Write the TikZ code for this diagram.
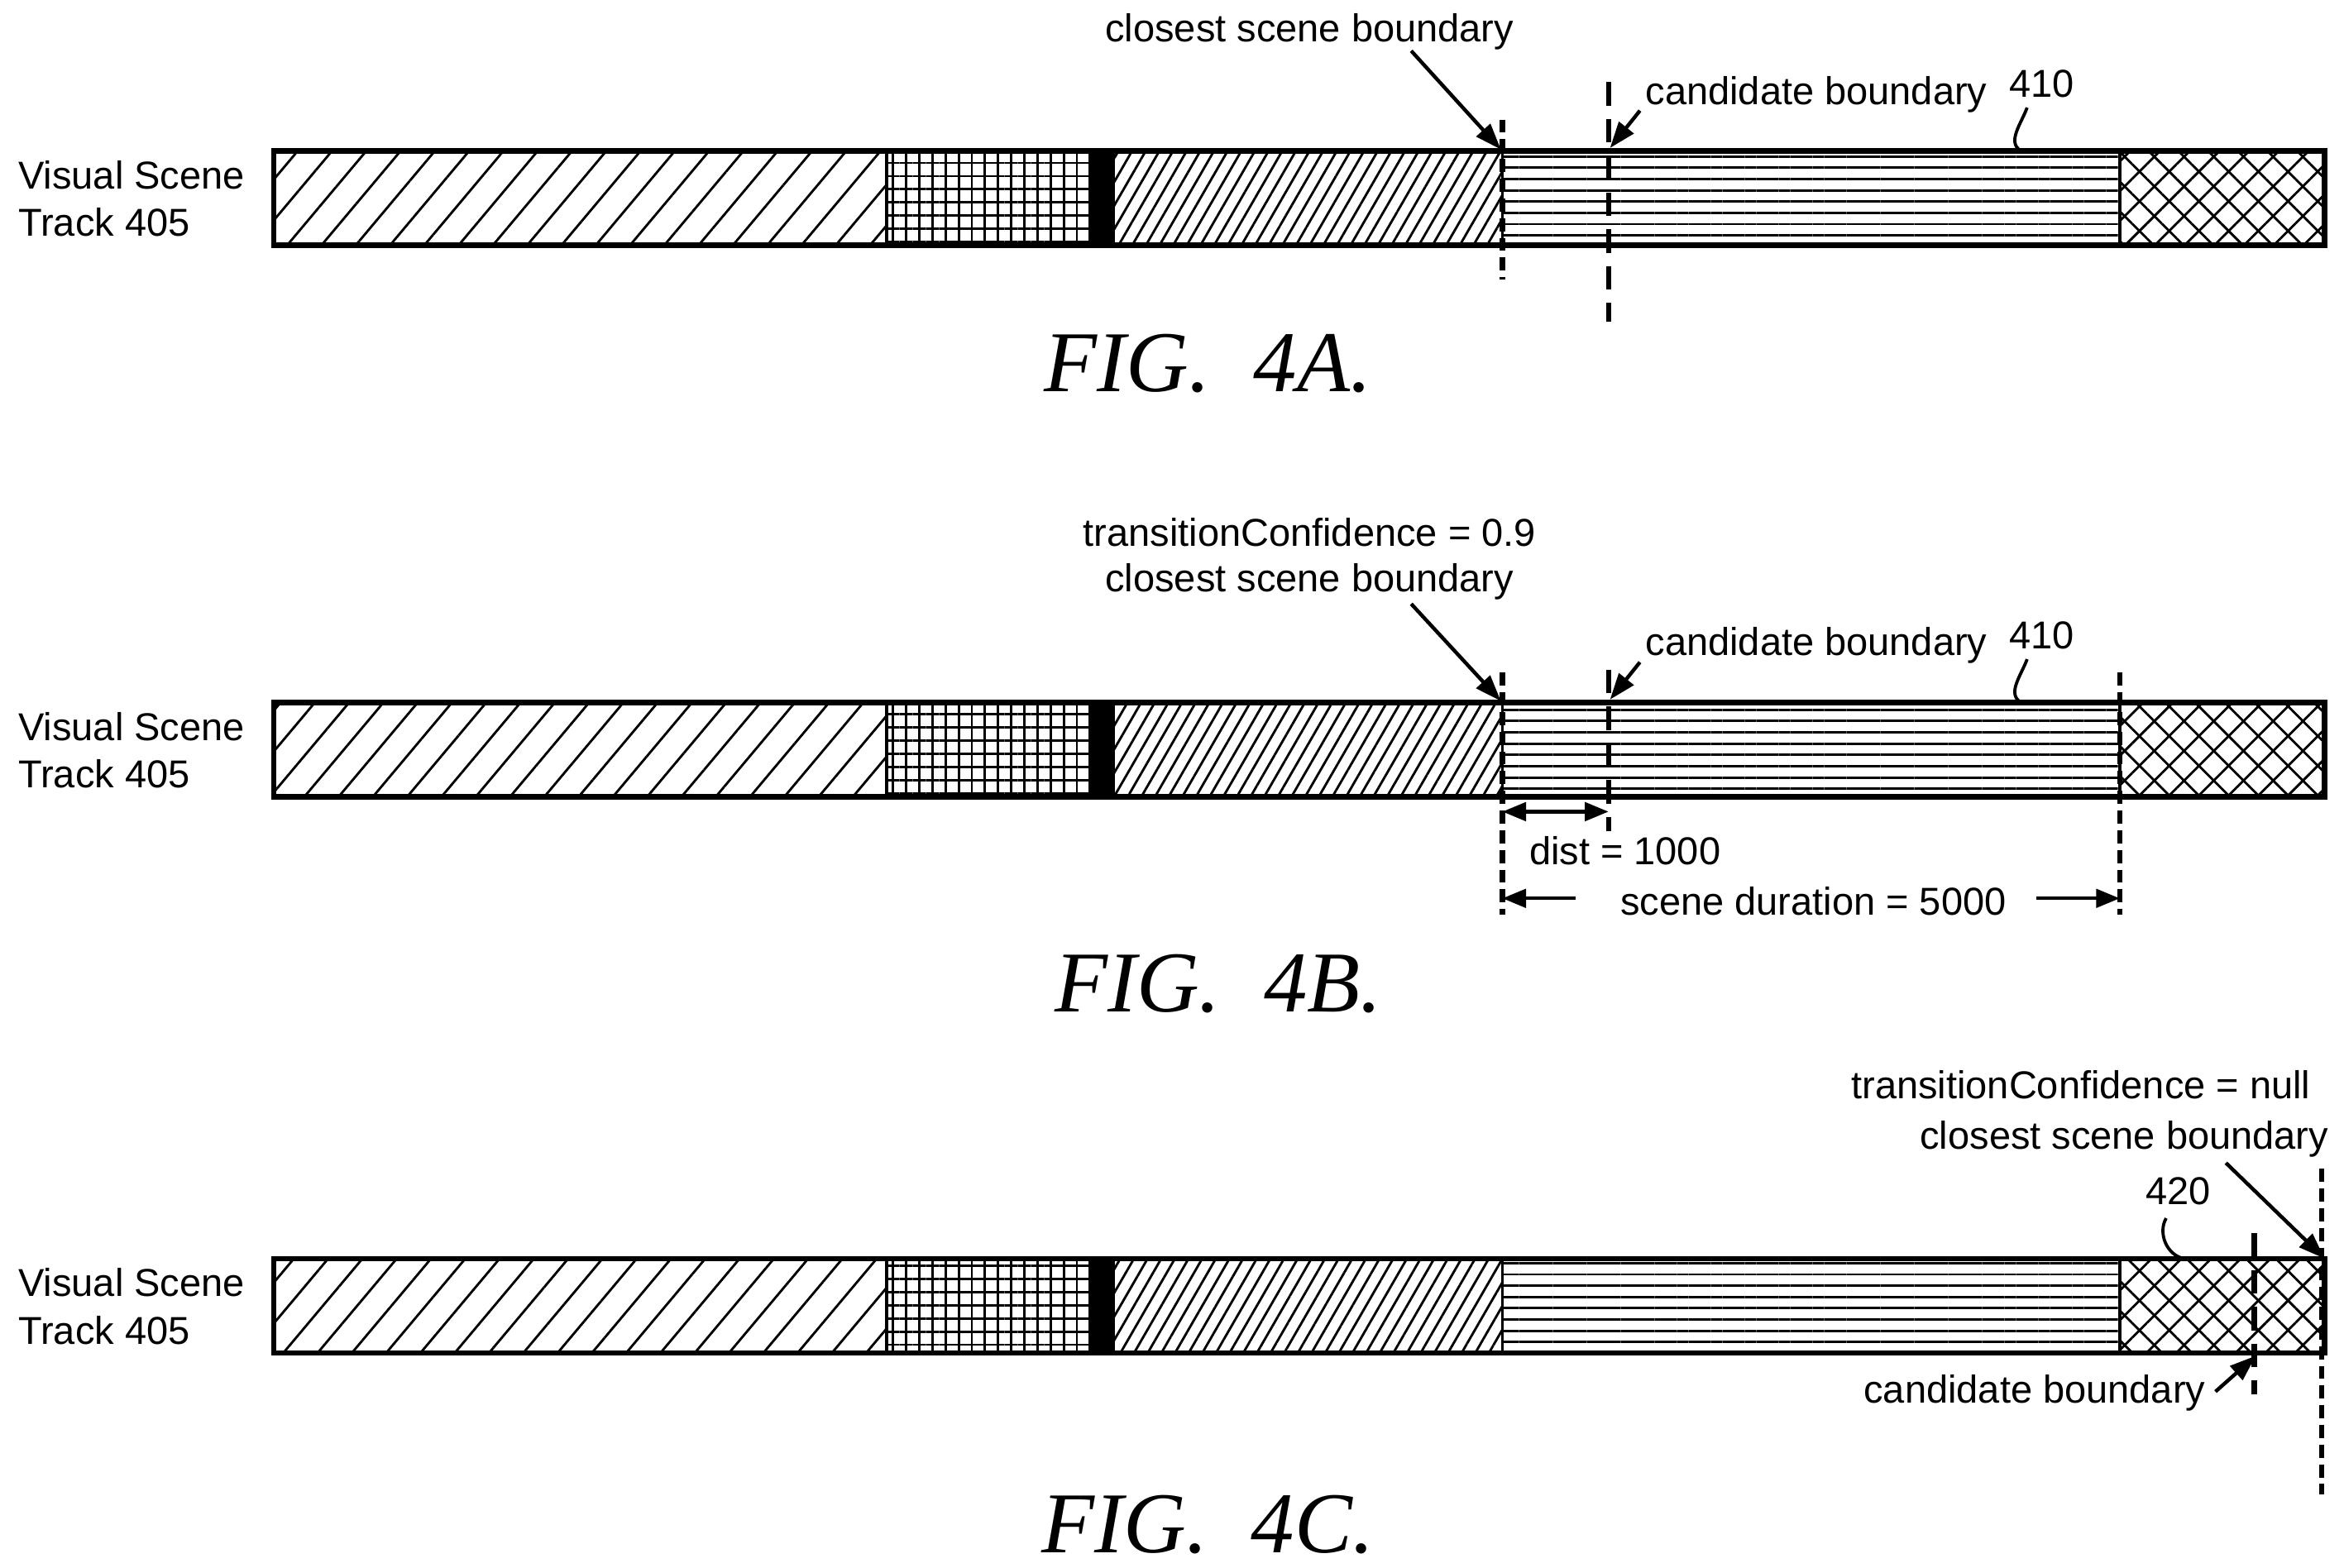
\documentclass[tikz,border=0pt]{standalone}
\usepackage{fontspec}
\setmainfont{Liberation Sans}
\newfontfamily\figfont{Liberation Serif}
\usetikzlibrary{patterns.meta,arrows.meta}
\tikzset{
  lbl/.style={font=\fontsize{14.8}{18}\selectfont,inner sep=0pt,align=center},
  fig/.style={font=\figfont\itshape\fontsize{33}{36}\selectfont,inner sep=0pt},
  bar/.style={line width=2pt},
  cls/.style={line width=2pt,dash pattern=on 5pt off 2.5pt},
  cand/.style={line width=2pt,dash pattern=on 9pt off 5pt},
  arr/.style={line width=1.4pt,-{Triangle[length=10pt,width=7pt]}},
  dim/.style={line width=1.4pt,-{Triangle[length=9pt,width=7pt]}},
  hatch/.style 2 args={pattern={Lines[angle=#1,distance=#2,line width=0.9pt]}}
}
\begin{document}
\begin{tikzpicture}[x=0.02cm,y=-0.02cm]
	\useasboundingbox (0,0) rectangle (1568,1049);
	% the three tracks
	\foreach \t/\n in {101/a,470/b,842/c}{
		\node[lbl,align=left,anchor=west] (trk\n) at (12,\t+32) {Visual Scene\\Track 405};
		\fill[hatch={50}{10pt}] (183,\t) rectangle (593,\t+63);
		\fill[hatch={0}{5pt}] (593,\t) rectangle (730,\t+63);
		\fill[hatch={90}{5pt}] (593,\t) rectangle (730,\t+63);
		\fill (730,\t) rectangle (745,\t+63);
		\fill[hatch={60}{4.5pt}] (745,\t) rectangle (1005,\t+63);
		\fill[hatch={0}{4.3pt}] (1005,\t) rectangle (1418,\t+63);
		\fill[hatch={45}{8pt}] (1418,\t) rectangle (1555,\t+63);
		\fill[hatch={-45}{8pt}] (1418,\t) rectangle (1555,\t+63);
		\foreach \s in {593,730,745,1005,1418}
			\draw[line width=1.1pt] (\s,\t) -- (\s,\t+63);
		\draw[bar] (183,\t) rectangle (1555,\t+63);
	}

	% FIG. 4A
	\node[lbl] (clsa) at (876,21) {closest scene boundary};
	\node[lbl] (canda) at (1215,63) {candidate boundary};
	\node[lbl] (refa) at (1366,56) {410};
	\coordinate (ba) at (1004,100);
	\coordinate (ca) at (1077,99);
	\draw[cls] (1005,80) -- (1005,187);
	\draw[cand] (1076,55) -- (1076,215);
	\draw[arr] (944,34) -- (ba);
	\draw[arr] (1097,74) -- (ca);
	\draw[line width=1.2pt] (1356,72) to[out=250,in=150] (1352,101);
	\node[fig] (figa) at (808,243) {FIG.\ \ 4A.};

	% FIG. 4B
	\node[lbl] (confb) at (876,356) {transitionConfidence = 0.9};
	\node[lbl] (clsb) at (876,389) {closest scene boundary};
	\node[lbl] (candb) at (1215,432) {candidate boundary};
	\node[lbl] (refb) at (1366,425) {410};
	\coordinate (bb) at (1004,469);
	\coordinate (cb) at (1077,468);
	\draw[cls] (1005,450) -- (1005,612);
	\draw[cls] (1418,450) -- (1418,612);
	\draw[cand] (1076,448) -- (1076,556);
	\draw[arr] (944,404) -- (bb);
	\draw[arr] (1097,443) -- (cb);
	\draw[line width=1.2pt] (1356,441) to[out=250,in=150] (1352,470);
	\coordinate (da) at (1005,543);
	\coordinate (db) at (1076,543);
	\draw[dim,{Triangle[length=9pt,width=7pt]}-{Triangle[length=9pt,width=7pt]}] (da) -- (db);
	\node[lbl] (dist) at (1087,569) {dist = 1000};
	\node[lbl] (dur) at (1213,603) {scene duration = 5000};
	\coordinate (sa) at (1005,601);
	\coordinate (sb) at (1418,601);
	\draw[dim] (1054,601) -- (sa);
	\draw[dim] (1362,601) -- (sb);
	\node[fig] (figb) at (815,658) {FIG.\ \ 4B.};

	% FIG. 4C
	\node[lbl] (confc) at (1392,726) {transitionConfidence = null};
	\node[lbl] (clsc) at (1421,762) {closest scene boundary};
	\node[lbl] (refc) at (1457,797) {420};
	\node[lbl] (candc) at (1361,932) {candidate boundary};
	\coordinate (bc) at (1555,842);
	\coordinate (cc) at (1509,907);
	\draw[cls] (1553,782) -- (1553,1000);
	\draw[cand] (1508,825) -- (1508,933);
	\draw[arr] (1489,778) -- (bc);
	\draw[arr] (1482,931) -- (cc);
	\draw[line width=1.2pt] (1449,815) to[out=240,in=170] (1461,842);
	\node[fig] (figc) at (808,1020) {FIG.\ \ 4C.};
\end{tikzpicture}
\end{document}
